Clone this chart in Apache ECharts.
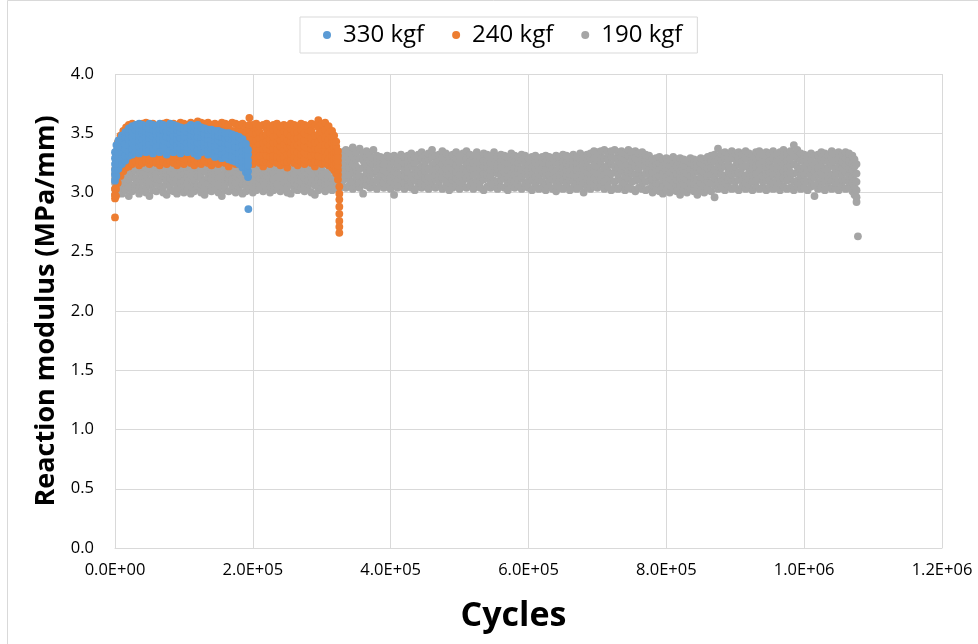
<!DOCTYPE html>
<html><head><meta charset="utf-8">
<script src="https://cdn.jsdelivr.net/npm/echarts@6/dist/echarts.min.js"></script>
<style>html,body{margin:0;padding:0;background:#fff}#c{width:978px;height:644px}</style>
</head><body><div id="c"></div>
<script>
const seriesNames = ['330 kgf', '240 kgf', '190 kgf'];
const xTickValues = [0, 200000, 400000, 600000, 800000, 1000000, 1200000];
const xTickLabels = ['0.0E+00', '2.0E+05', '4.0E+05', '6.0E+05', '8.0E+05', '1.0E+06', '1.2E+06'];
const yTickValues = [0, 0.5, 1, 1.5, 2, 2.5, 3, 3.5, 4];
const yTickLabels = ['0.0', '0.5', '1.0', '1.5', '2.0', '2.5', '3.0', '3.5', '4.0'];

// rows: [cycles, reaction modulus readings at that cycle count...]
const kgf330 = [
[0,3.10,3.15,3.19,3.24,3.29,3.34],[2000,3.14,3.19,3.25,3.30,3.35,3.40],[5000,3.20,3.24,3.29,3.34,3.39,3.44],
[10000,3.24,3.29,3.34,3.39,3.44,3.48],[15000,3.27,3.31,3.37,3.41,3.47,3.51],[20000,3.31,3.35,3.40,3.45,3.50,3.54],
[25000,3.32,3.37,3.42,3.47,3.52,3.56],[30000,3.34,3.38,3.43,3.48,3.53,3.57],[35000,3.33,3.39,3.44,3.49,3.54,3.58],
[40000,3.35,3.40,3.45,3.50,3.53,3.57],[45000,3.34,3.38,3.42,3.47,3.52,3.56],[50000,3.36,3.41,3.46,3.50,3.54,3.58],
[55000,3.33,3.37,3.43,3.48,3.53,3.57],[60000,3.35,3.39,3.44,3.49,3.52,3.56],[65000,3.34,3.40,3.45,3.50,3.54,3.58],
[70000,3.36,3.40,3.44,3.48,3.53,3.57],[75000,3.32,3.38,3.43,3.47,3.52,3.56],[80000,3.35,3.41,3.46,3.51,3.55,3.58],
[85000,3.34,3.39,3.43,3.48,3.53,3.57],[90000,3.36,3.40,3.45,3.50,3.53,3.56],[95000,3.33,3.37,3.42,3.46,3.51,3.55],
[100000,3.35,3.39,3.44,3.48,3.51,3.54],[105000,3.34,3.38,3.42,3.47,3.51,3.55],[110000,3.36,3.41,3.45,3.49,3.53,3.57],
[115000,3.33,3.38,3.43,3.48,3.52,3.56],[120000,3.31,3.36,3.42,3.47,3.52,3.57],[125000,3.34,3.38,3.43,3.47,3.51,3.55],
[130000,3.35,3.39,3.43,3.47,3.50,3.54],[135000,3.32,3.36,3.41,3.45,3.49,3.53],[140000,3.33,3.37,3.41,3.45,3.49,3.53],
[145000,3.30,3.35,3.39,3.44,3.48,3.52],[150000,3.31,3.35,3.40,3.44,3.48,3.52],[155000,3.29,3.33,3.38,3.42,3.47,3.51],
[160000,3.30,3.34,3.38,3.42,3.46,3.50],[165000,3.28,3.32,3.37,3.41,3.46,3.50],[170000,3.27,3.31,3.36,3.40,3.45,3.49],
[175000,3.26,3.30,3.35,3.39,3.44,3.48],[180000,3.24,3.28,3.33,3.38,3.43,3.47],[185000,3.21,3.26,3.30,3.35,3.40,3.45],
[190000,3.17,3.22,3.27,3.32,3.37,3.41],[193000,3.13,3.18,3.23,3.27,3.32,3.36],[193500,2.86]
];

const kgf240 = [
[0,2.79,2.95,2.98,3.03],[1500,2.97,3.03,3.09,3.15,3.21,3.26,3.30],[4000,3.08,3.14,3.20,3.26,3.31,3.37,3.42],
[8000,3.14,3.20,3.26,3.31,3.37,3.43,3.48],[12000,3.18,3.24,3.29,3.35,3.41,3.47,3.52],[16000,3.21,3.27,3.32,3.38,3.44,3.50,3.55],
[20000,3.22,3.28,3.34,3.40,3.46,3.52,3.57],[25000,3.24,3.29,3.35,3.41,3.47,3.52,3.58],[30000,3.26,3.32,3.38,3.42,3.47,3.53,3.57],
[35000,3.23,3.27,3.33,3.38,3.43,3.49,3.56],[40000,3.25,3.30,3.36,3.42,3.48,3.53,3.58],[45000,3.27,3.33,3.39,3.43,3.48,3.54,3.59],
[50000,3.24,3.28,3.34,3.39,3.44,3.50,3.57],[55000,3.26,3.31,3.37,3.43,3.49,3.54,3.58],[60000,3.25,3.31,3.37,3.41,3.46,3.52,3.56],
[65000,3.23,3.27,3.33,3.38,3.43,3.49,3.57],[70000,3.26,3.31,3.37,3.43,3.49,3.54,3.58],[75000,3.24,3.30,3.36,3.40,3.45,3.51,3.59],
[80000,3.27,3.31,3.37,3.42,3.47,3.53,3.57],[85000,3.25,3.30,3.36,3.42,3.48,3.53,3.58],[90000,3.23,3.29,3.35,3.39,3.44,3.50,3.56],
[95000,3.26,3.30,3.36,3.41,3.46,3.52,3.59],[100000,3.24,3.29,3.35,3.41,3.47,3.52,3.58],[105000,3.27,3.33,3.39,3.43,3.48,3.54,3.57],
[110000,3.25,3.29,3.35,3.40,3.45,3.51,3.59],[115000,3.23,3.28,3.34,3.40,3.46,3.51,3.57],[120000,3.26,3.32,3.38,3.42,3.47,3.53,3.60],
[125000,3.24,3.28,3.34,3.39,3.44,3.50,3.59],[130000,3.27,3.32,3.38,3.44,3.50,3.55,3.58],[135000,3.25,3.31,3.37,3.41,3.46,3.52,3.59],
[140000,3.23,3.27,3.33,3.38,3.43,3.49,3.57],[145000,3.26,3.31,3.37,3.43,3.49,3.54,3.58],[150000,3.24,3.30,3.36,3.40,3.45,3.51,3.57],
[155000,3.27,3.31,3.37,3.42,3.47,3.53,3.59],[160000,3.25,3.30,3.36,3.42,3.48,3.53,3.58],[165000,3.22,3.28,3.34,3.38,3.43,3.49,3.57],
[170000,3.26,3.30,3.36,3.41,3.46,3.52,3.59],[175000,3.24,3.29,3.35,3.41,3.47,3.52,3.58],[180000,3.27,3.33,3.39,3.43,3.48,3.54,3.57],
[185000,3.25,3.29,3.35,3.40,3.45,3.51,3.58],[190000,3.23,3.28,3.34,3.40,3.46,3.51,3.56],[195000,3.26,3.32,3.38,3.42,3.47,3.53,3.57,3.63],
[200000,3.24,3.28,3.34,3.39,3.44,3.50,3.57],[205000,3.27,3.32,3.38,3.44,3.50,3.55,3.58],[210000,3.25,3.31,3.37,3.41,3.46,3.51,3.56],
[215000,3.22,3.26,3.32,3.37,3.42,3.48,3.57],[220000,3.26,3.31,3.37,3.43,3.49,3.54,3.58],[225000,3.24,3.30,3.36,3.40,3.45,3.50,3.56],
[230000,3.27,3.31,3.37,3.42,3.47,3.53,3.57],[235000,3.25,3.30,3.36,3.42,3.48,3.53,3.58],[240000,3.23,3.29,3.35,3.39,3.44,3.50,3.56],
[245000,3.26,3.30,3.36,3.41,3.46,3.52,3.57],[250000,3.21,3.26,3.32,3.38,3.44,3.50,3.56],[255000,3.27,3.33,3.39,3.43,3.48,3.54,3.58],
[260000,3.25,3.29,3.35,3.40,3.45,3.51,3.57],[265000,3.23,3.28,3.34,3.40,3.46,3.51,3.56],[270000,3.26,3.32,3.38,3.42,3.47,3.53,3.58],
[275000,3.24,3.28,3.34,3.39,3.44,3.50,3.57],[280000,3.27,3.32,3.38,3.44,3.49,3.53,3.56],[285000,3.25,3.31,3.37,3.41,3.46,3.52,3.58],
[290000,3.22,3.26,3.32,3.37,3.42,3.48,3.57],[295000,3.26,3.31,3.37,3.43,3.49,3.55,3.61],[300000,3.24,3.30,3.36,3.40,3.45,3.51,3.58],
[305000,3.25,3.29,3.35,3.40,3.46,3.53,3.59],[310000,3.23,3.28,3.34,3.40,3.45,3.50,3.56],[315000,3.21,3.26,3.31,3.36,3.42,3.47,3.52],
[318000,3.19,3.23,3.28,3.33,3.38,3.43,3.48],[321000,3.16,3.20,3.25,3.29,3.34,3.39,3.43],[323500,3.11,3.15,3.19,3.23,3.27,3.31,3.35],
[325500,3.05,2.99,2.94,2.88,2.82,2.76,2.71,2.66]
];

const kgf190 = [
[0,2.98,3.03,3.08,3.12,3.16,3.20],[5000,3.00,3.07,3.11,3.16,3.20,3.23],[10000,2.99,3.04,3.10,3.15,3.21,3.24],
[15000,3.02,3.08,3.12,3.18,3.22,3.25],[20000,2.97,3.05,3.11,3.14,3.19,3.24],[25000,3.01,3.06,3.13,3.17,3.21,3.26],
[30000,3.03,3.07,3.12,3.19,3.23,3.27],[35000,2.99,3.05,3.09,3.16,3.20,3.25],[40000,3.02,3.09,3.14,3.18,3.22,3.26],
[45000,3.00,3.04,3.11,3.15,3.21,3.27],[50000,2.97,3.06,3.10,3.17,3.20,3.24],[55000,3.02,3.07,3.13,3.19,3.23,3.26],
[60000,3.01,3.08,3.12,3.16,3.22,3.28],[65000,3.03,3.06,3.11,3.18,3.21,3.25],[70000,3.00,3.05,3.14,3.17,3.23,3.27],
[75000,2.98,3.07,3.10,3.15,3.19,3.24],[80000,3.02,3.06,3.12,3.18,3.24,3.27],[85000,3.01,3.09,3.13,3.16,3.21,3.25],
[90000,2.99,3.04,3.11,3.17,3.22,3.28],[95000,3.03,3.08,3.14,3.19,3.23,3.26],[100000,3.00,3.06,3.10,3.16,3.21,3.27],
[105000,3.02,3.07,3.13,3.18,3.22,3.25],[110000,2.99,3.05,3.12,3.15,3.20,3.26],[115000,3.01,3.08,3.11,3.17,3.24,3.28],
[120000,3.03,3.06,3.14,3.19,3.22,3.25],[125000,3.00,3.07,3.12,3.16,3.21,3.27],[130000,2.98,3.04,3.10,3.18,3.23,3.26],
[135000,3.02,3.09,3.13,3.17,3.22,3.28],[140000,3.01,3.05,3.11,3.16,3.20,3.25],[145000,3.03,3.08,3.14,3.19,3.24,3.27],
[150000,3.00,3.06,3.12,3.17,3.21,3.26],[155000,2.97,3.05,3.10,3.15,3.22,3.28],[160000,3.02,3.07,3.13,3.19,3.23,3.27],
[165000,3.01,3.09,3.12,3.16,3.21,3.25],[170000,3.03,3.06,3.11,3.18,3.24,3.28],[175000,3.00,3.08,3.14,3.17,3.22,3.26],
[180000,3.02,3.05,3.10,3.16,3.21,3.27],[185000,2.99,3.07,3.13,3.19,3.23,3.25],[190000,3.01,3.06,3.12,3.15,3.20,3.28],
[195000,3.03,3.09,3.14,3.18,3.24,3.27],[200000,3.00,3.05,3.11,3.17,3.22,3.26],[205000,3.02,3.08,3.13,3.16,3.21,3.28],
[210000,3.04,3.07,3.12,3.19,3.23,3.27],[215000,3.01,3.06,3.10,3.15,3.22,3.26],[220000,3.03,3.09,3.14,3.18,3.24,3.28],
[225000,3.00,3.05,3.12,3.17,3.20,3.25],[230000,3.02,3.08,3.11,3.16,3.23,3.29],[235000,3.04,3.07,3.13,3.19,3.22,3.27],
[240000,3.01,3.06,3.12,3.18,3.24,3.28],[245000,3.03,3.09,3.14,3.17,3.21,3.26],[250000,3.00,3.05,3.10,3.16,3.22,3.27],
[255000,2.99,3.07,3.13,3.19,3.23,3.28],[260000,3.03,3.08,3.12,3.15,3.21,3.29],[265000,3.02,3.06,3.11,3.18,3.24,3.26],
[270000,3.04,3.09,3.14,3.17,3.22,3.28],[275000,3.01,3.05,3.12,3.19,3.23,3.27],[280000,3.03,3.07,3.10,3.16,3.21,3.26],
[285000,3.00,3.08,3.13,3.18,3.24,3.28],[290000,2.98,3.06,3.12,3.15,3.20,3.27],[295000,3.02,3.05,3.11,3.17,3.23,3.29],
[300000,3.04,3.09,3.14,3.19,3.22,3.28],[305000,3.01,3.07,3.12,3.16,3.24,3.27],[310000,3.03,3.08,3.13,3.18,3.25,3.30],
[315000,3.02,3.06,3.12,3.19,3.24,3.31],[320000,3.04,3.10,3.15,3.20,3.26,3.32],[325000,3.03,3.08,3.14,3.21,3.27,3.33],
[330000,3.05,3.10,3.16,3.22,3.28,3.34],[335000,3.04,3.12,3.18,3.23,3.30,3.36],[340000,3.06,3.11,3.15,3.21,3.27,3.35],
[345000,3.03,3.09,3.17,3.24,3.31,3.38],[350000,3.05,3.13,3.19,3.22,3.28,3.34],[355000,3.04,3.08,3.14,3.20,3.29,3.37],
[360000,2.99,3.07,3.13,3.21,3.27,3.33],[365000,3.06,3.12,3.17,3.23,3.30,3.35],[370000,3.04,3.10,3.15,3.19,3.26,3.32],
[375000,3.05,3.09,3.16,3.24,3.29,3.36],[380000,3.03,3.11,3.18,3.21,3.26,3.31],[385000,3.06,3.10,3.14,3.20,3.25,3.30],
[390000,3.04,3.08,3.15,3.19,3.24,3.29],[395000,3.05,3.12,3.17,3.22,3.27,3.31],[400000,3.03,3.09,3.13,3.20,3.26,3.30],
[405000,2.98,3.07,3.14,3.18,3.25,3.31],[410000,3.04,3.10,3.16,3.21,3.24,3.29],[415000,3.06,3.11,3.15,3.22,3.28,3.32],
[420000,3.03,3.08,3.14,3.19,3.25,3.30],[425000,3.05,3.12,3.17,3.21,3.26,3.31],[430000,3.04,3.09,3.15,3.23,3.28,3.33],
[435000,3.02,3.10,3.16,3.20,3.25,3.30],[440000,3.05,3.11,3.14,3.19,3.27,3.32],[445000,3.04,3.08,3.16,3.22,3.29,3.34],
[450000,3.06,3.12,3.18,3.21,3.26,3.31],[455000,3.03,3.09,3.13,3.20,3.28,3.33],[460000,3.05,3.10,3.17,3.23,3.30,3.36],
[465000,3.04,3.11,3.15,3.19,3.25,3.31],[470000,3.06,3.09,3.14,3.21,3.27,3.32],[475000,3.03,3.12,3.18,3.24,3.29,3.35],
[480000,3.05,3.10,3.16,3.20,3.26,3.33],[485000,3.02,3.08,3.15,3.22,3.27,3.31],[490000,3.04,3.11,3.14,3.19,3.25,3.32],
[495000,3.06,3.12,3.17,3.23,3.29,3.34],[500000,3.03,3.09,3.15,3.21,3.26,3.31],[505000,3.05,3.10,3.16,3.20,3.28,3.33],
[510000,3.04,3.12,3.18,3.24,3.29,3.35],[515000,3.06,3.11,3.14,3.21,3.26,3.32],[520000,3.03,3.08,3.15,3.19,3.25,3.31],
[525000,3.05,3.10,3.17,3.23,3.28,3.34],[530000,3.04,3.09,3.13,3.20,3.24,3.30],[535000,3.02,3.11,3.16,3.22,3.27,3.33],
[540000,3.05,3.12,3.15,3.21,3.26,3.32],[545000,3.04,3.08,3.14,3.19,3.25,3.31],[550000,3.06,3.10,3.17,3.23,3.29,3.34],
[555000,3.03,3.09,3.16,3.20,3.24,3.30],[560000,3.05,3.11,3.15,3.22,3.27,3.32],[565000,3.04,3.12,3.18,3.21,3.26,3.31],
[570000,3.02,3.08,3.13,3.19,3.25,3.30],[575000,3.05,3.10,3.16,3.22,3.28,3.33],[580000,3.04,3.09,3.15,3.20,3.26,3.31],
[585000,3.06,3.11,3.17,3.21,3.25,3.30],[590000,3.03,3.12,3.14,3.19,3.27,3.32],[595000,3.05,3.08,3.16,3.23,3.26,3.31],
[600000,3.04,3.09,3.14,3.19,3.24,3.29],[605000,3.02,3.10,3.16,3.21,3.26,3.30],[610000,3.05,3.08,3.13,3.20,3.25,3.31],
[615000,3.03,3.11,3.15,3.18,3.23,3.29],[620000,3.04,3.09,3.17,3.22,3.26,3.30],[625000,3.02,3.07,3.14,3.19,3.25,3.31],
[630000,3.05,3.10,3.15,3.21,3.24,3.30],[635000,3.03,3.11,3.16,3.20,3.26,3.29],[640000,3.01,3.08,3.13,3.18,3.25,3.31],
[645000,3.04,3.09,3.15,3.22,3.27,3.30],[650000,3.03,3.10,3.17,3.21,3.26,3.32],[655000,3.05,3.08,3.14,3.19,3.25,3.31],
[660000,3.02,3.11,3.16,3.20,3.24,3.30],[665000,3.04,3.09,3.15,3.22,3.27,3.32],[670000,3.03,3.07,3.13,3.19,3.25,3.30],
[675000,3.05,3.10,3.16,3.21,3.28,3.33],[680000,3.00,3.08,3.14,3.20,3.26,3.31],[685000,3.04,3.11,3.17,3.22,3.27,3.32],
[690000,3.03,3.09,3.15,3.21,3.28,3.33],[695000,3.05,3.12,3.18,3.23,3.29,3.35],[700000,3.04,3.10,3.16,3.22,3.28,3.34],
[705000,3.06,3.11,3.17,3.24,3.30,3.35],[710000,3.03,3.09,3.15,3.21,3.29,3.36],[715000,3.05,3.12,3.18,3.23,3.28,3.34],
[720000,3.02,3.10,3.16,3.24,3.30,3.35],[725000,3.04,3.09,3.17,3.22,3.29,3.36],[730000,3.03,3.11,3.15,3.21,3.27,3.34],
[735000,3.05,3.10,3.18,3.24,3.30,3.35],[740000,3.02,3.08,3.14,3.22,3.28,3.33],[745000,3.04,3.12,3.17,3.23,3.31,3.36],
[750000,3.03,3.09,3.16,3.21,3.27,3.34],[755000,3.01,3.10,3.15,3.22,3.29,3.35],[760000,3.04,3.11,3.17,3.20,3.26,3.33],
[765000,3.03,3.08,3.14,3.23,3.28,3.34],[770000,3.02,3.09,3.16,3.21,3.27,3.32],[775000,3.03,3.10,3.15,3.19,3.25,3.31],
[780000,3.00,3.06,3.11,3.17,3.23,3.28],[785000,3.02,3.08,3.13,3.18,3.24,3.29],[790000,3.01,3.07,3.14,3.20,3.25,3.30],
[795000,2.99,3.05,3.11,3.16,3.22,3.28],[800000,3.02,3.09,3.13,3.19,3.24,3.29],[805000,3.00,3.06,3.12,3.17,3.23,3.28],
[810000,3.02,3.08,3.14,3.20,3.25,3.30],[815000,3.01,3.07,3.11,3.16,3.22,3.28],[820000,2.98,3.06,3.12,3.18,3.24,3.29],
[825000,3.02,3.07,3.13,3.19,3.23,3.28],[830000,3.00,3.06,3.11,3.16,3.22,3.27],[835000,3.03,3.08,3.14,3.20,3.25,3.29],
[840000,3.01,3.07,3.12,3.17,3.23,3.28],[845000,2.98,3.05,3.11,3.18,3.22,3.27],[850000,3.02,3.08,3.13,3.19,3.25,3.29],
[855000,3.00,3.06,3.12,3.17,3.23,3.28],[860000,3.03,3.09,3.14,3.20,3.26,3.30],[865000,3.01,3.08,3.15,3.21,3.27,3.31],
[870000,2.96,3.06,3.12,3.19,3.26,3.32],[875000,3.03,3.09,3.16,3.22,3.28,3.37],[880000,3.04,3.10,3.15,3.21,3.27,3.33],
[885000,3.02,3.08,3.14,3.22,3.29,3.34],[890000,3.05,3.11,3.17,3.23,3.27,3.32],[895000,3.03,3.10,3.15,3.21,3.29,3.35],
[900000,3.04,3.09,3.16,3.22,3.28,3.33],[905000,3.02,3.11,3.17,3.24,3.29,3.34],[910000,3.05,3.10,3.15,3.21,3.26,3.32],
[915000,3.03,3.08,3.14,3.22,3.29,3.35],[920000,3.04,3.11,3.17,3.23,3.28,3.33],[925000,3.02,3.09,3.15,3.20,3.26,3.31],
[930000,3.05,3.10,3.16,3.22,3.29,3.34],[935000,3.03,3.11,3.18,3.24,3.30,3.35],[940000,3.04,3.09,3.14,3.21,3.27,3.32],
[945000,3.02,3.10,3.16,3.22,3.28,3.34],[950000,3.05,3.11,3.17,3.23,3.27,3.33],[955000,3.03,3.08,3.15,3.21,3.29,3.35],
[960000,3.04,3.10,3.16,3.20,3.26,3.32],[965000,3.02,3.09,3.15,3.22,3.28,3.34],[970000,3.05,3.12,3.18,3.24,3.30,3.36],
[975000,3.03,3.10,3.16,3.21,3.27,3.33],[980000,3.04,3.11,3.17,3.23,3.29,3.35],[985000,3.02,3.09,3.16,3.24,3.31,3.40],
[990000,3.05,3.10,3.17,3.22,3.29,3.36],[995000,3.03,3.08,3.14,3.20,3.27,3.33],[1000000,3.04,3.10,3.15,3.21,3.26,3.32],
[1005000,3.02,3.09,3.16,3.19,3.25,3.31],[1010000,3.05,3.11,3.14,3.20,3.27,3.33],[1015000,2.97,3.06,3.13,3.18,3.24,3.31],
[1020000,3.03,3.08,3.15,3.21,3.26,3.32],[1025000,3.04,3.10,3.17,3.22,3.28,3.34],[1030000,3.02,3.09,3.14,3.20,3.27,3.33],
[1035000,3.05,3.11,3.16,3.21,3.26,3.32],[1040000,3.03,3.10,3.15,3.23,3.29,3.35],[1045000,3.04,3.08,3.14,3.20,3.27,3.33],
[1050000,3.02,3.09,3.16,3.22,3.28,3.34],[1055000,3.05,3.11,3.15,3.21,3.26,3.32],[1060000,3.03,3.10,3.17,3.23,3.29,3.34],
[1065000,3.04,3.09,3.14,3.20,3.27,3.33],[1070000,3.01,3.08,3.13,3.19,3.25,3.31],[1073000,2.98,3.04,3.10,3.16,3.22,3.28],
[1076000,2.92,2.96,3.02,3.09,3.16,3.24],[1078000,2.63]
];

const colors = {'330 kgf': '#5B9BD5', '240 kgf': '#ED7D31', '190 kgf': '#A5A5A5'};

function toPoints(rows) {
  const out = [];
  rows.forEach(r => { for (let i = 1; i < r.length; i++) out.push([r[0], r[i]]); });
  return out;
}

const FONT = 'Open Sans';
const chart = echarts.init(document.getElementById('c'), null, {renderer: 'canvas'});

const mk = (name, rows) => ({
  name, type: 'scatter', data: toPoints(rows), symbol: 'circle', symbolSize: 7.8,
  itemStyle: {color: colors[name], opacity: 1}, emphasis: {disabled: true},
  large: false, progressive: 0
});

chart.setOption({
  animation: false,
  backgroundColor: '#ffffff',
  textStyle: {fontFamily: FONT},
  graphic: [{
    type: 'rect', silent: true, z: -10,
    shape: {x: 7.5, y: 0.5, width: 1000, height: 1000},
    style: {fill: 'none', stroke: '#d9d9d9', lineWidth: 1}
  }],
  legend: {
    data: seriesNames,
    left: 300, top: 17,
    orient: 'horizontal',
    borderColor: '#d9d9d9', borderWidth: 1,
    padding: [6, 15, 6, 23],
    itemGap: 28, itemWidth: 8, itemHeight: 8, icon: 'circle',
    textStyle: {fontFamily: FONT, fontSize: 24, color: '#000', padding: [0, 0, 0, 7]}
  },
  grid: {left: 115, right: 36, top: 74, bottom: 96, containLabel: false},
  xAxis: {
    type: 'value', min: 0, max: 1200000, interval: 200000,
    name: 'Cycles', nameLocation: 'middle', nameGap: 51,
    nameTextStyle: {fontFamily: FONT, fontSize: 34, fontWeight: 'bold', color: '#000', padding: [0, 30, 0, 0]},
    axisLine: {show: true, lineStyle: {color: '#d9d9d9', width: 1}},
    axisTick: {show: false},
    axisLabel: {
      fontFamily: FONT, fontSize: 16.5, color: '#000', margin: 14,
      formatter: v => { const i = xTickValues.indexOf(v); return i >= 0 ? xTickLabels[i] : ''; }
    },
    splitLine: {show: true, lineStyle: {color: '#d9d9d9', width: 1}}
  },
  yAxis: {
    type: 'value', min: 0, max: 4, interval: 0.5,
    name: 'Reaction modulus (MPa/mm)', nameLocation: 'middle', nameGap: 52, nameRotate: 90,
    nameTextStyle: {fontFamily: FONT, fontSize: 27, fontWeight: 'bold', color: '#000'},
    axisLine: {show: false},
    axisTick: {show: false},
    axisLabel: {
      fontFamily: FONT, fontSize: 16.5, color: '#000', margin: 21,
      formatter: v => { const i = yTickValues.findIndex(t => Math.abs(t - v) < 1e-9); return i >= 0 ? yTickLabels[i] : ''; }
    },
    splitLine: {show: true, lineStyle: {color: '#d9d9d9', width: 1}}
  },
  series: [mk('190 kgf', kgf190), mk('240 kgf', kgf240), mk('330 kgf', kgf330)]
});
</script>
</body></html>
